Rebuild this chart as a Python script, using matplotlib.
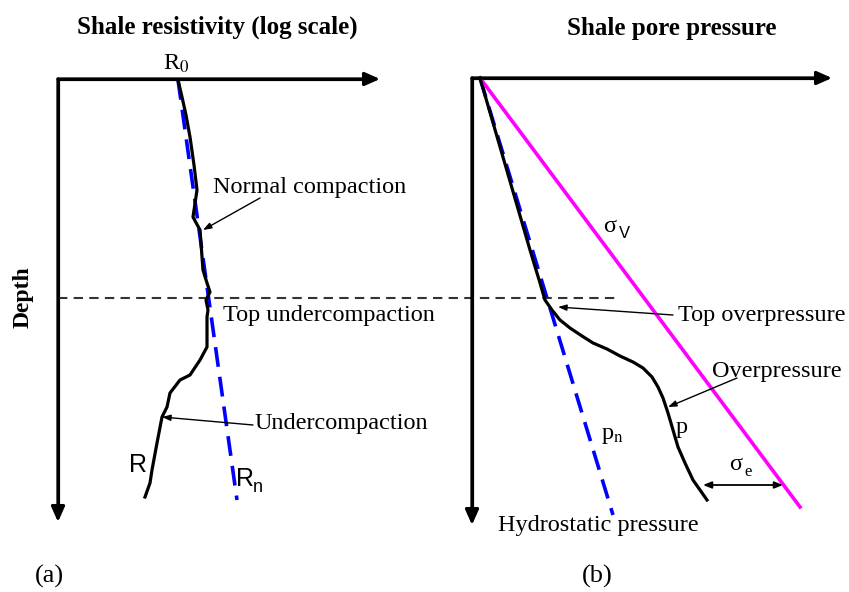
import matplotlib.pyplot as plt

plt.rcParams['font.family'] = ['Liberation Serif', 'DejaVu Serif']
plt.rcParams['mathtext.fontset'] = 'stix'

# schematic, in pixel units (x to the right, depth downwards)
# panel (a): shale resistivity
res_x = [178, 182, 186, 190, 194, 197, 193, 200, 203, 207, 210, 206, 208, 207, 207,
         200, 190, 180, 170, 167, 162, 157, 152, 150, 145]
res_depth = [80, 97, 115, 137, 165, 190, 217, 230, 270, 283, 292, 300, 310, 317, 347,
             360, 375, 380, 393, 407, 417, 443, 470, 483, 497]
rn_x = [178, 237]
rn_depth = [80, 500]

# panel (b): pore pressure
p_x = [480, 530, 540, 545, 552, 560, 570, 582, 593, 607, 620, 633, 643, 652, 658,
       663, 668, 673, 678, 685, 693, 707]
p_depth = [78, 250, 283, 300, 310, 320, 328, 336, 343, 349, 356, 362, 368, 377, 387,
           398, 413, 430, 447, 463, 480, 500]
pn_x = [480, 613]
pn_depth = [78, 515]
sigv_x = [480, 800]
sigv_depth = [78, 507]

top_depth = 298

fig = plt.figure(figsize=(8.49, 5.92), dpi=100)
ax = fig.add_axes([0, 0, 1, 1])
ax.set_xlim(0, 849)
ax.set_ylim(592, 0)
ax.axis('off')

axis_arrow = dict(arrowstyle='-|>,head_length=0.9,head_width=0.4', lw=2.3,
                  color='black', shrinkA=0, shrinkB=0)
label_arrow = dict(arrowstyle='-|>,head_length=0.5,head_width=0.18', lw=1.0,
                   color='black', shrinkA=0, shrinkB=0)

# axes of both panels
for x0, y0, xend, yend in [(58, 79, 380, 522), (472, 78, 832, 525)]:
    ax.plot([xend - 10, x0, x0], [y0, y0, yend - 10], color='black', lw=2.3,
            solid_joinstyle='miter')
    ax.annotate('', xy=(xend, y0), xytext=(x0, y0), arrowprops=axis_arrow)
    ax.annotate('', xy=(x0, yend), xytext=(x0, y0), arrowprops=axis_arrow)

# top of undercompaction / overpressure
ax.plot([58, 618], [top_depth, top_depth], color='#333333', lw=1.5, dashes=(4.5, 3))

# panel (a)
ax.plot(rn_x, rn_depth, color='#0000ff', lw=2.6, dashes=(5.5, 2.8))
ax.plot(res_x, res_depth, color='black', lw=2.3, solid_joinstyle='round')

# panel (b)
ax.plot(pn_x, pn_depth, color='#0000ff', lw=2.6, dashes=(5.5, 2.8))
ax.plot(sigv_x, sigv_depth, color='#ff00ff', lw=2.6)
ax.plot(p_x, p_depth, color='black', lw=2.3, solid_joinstyle='round')
ax.annotate('', xy=(703, 485), xytext=(783, 485),
            arrowprops=dict(arrowstyle='<|-|>,head_length=0.5,head_width=0.2',
                            lw=1.3, color='black', shrinkA=0, shrinkB=0))

fs = 17.5
ax.text(217, 27, 'Shale resistivity (log scale)', fontsize=18, fontweight='bold',
        ha='center', va='center')
ax.text(672, 28, 'Shale pore pressure', fontsize=18, fontweight='bold',
        ha='center', va='center')
ax.text(23, 297, 'Depth', fontsize=17, fontweight='bold', rotation=90,
        ha='center', va='center')
ax.text(49, 576, '(a)', fontsize=19, ha='center', va='center')
ax.text(597, 576, '(b)', fontsize=19, ha='center', va='center')

ax.text(176, 64, r'R$_0$', fontsize=fs, ha='center', va='center')
ax.text(213, 187, 'Normal compaction', fontsize=fs, va='center')
ax.annotate('', xy=(203, 230), xytext=(260, 198), arrowprops=label_arrow)
ax.text(223, 315, 'Top undercompaction', fontsize=fs, va='center')
ax.text(255, 423, 'Undercompaction', fontsize=fs, va='center')
ax.annotate('', xy=(162, 417), xytext=(253, 425), arrowprops=label_arrow)
ax.text(138, 465, 'R', fontsize=18, family='Liberation Sans', ha='center', va='center')
ax.text(245, 479, 'R', fontsize=18, family='Liberation Sans', ha='center', va='center')
ax.text(258, 488, 'n', fontsize=13, family='Liberation Sans', ha='center', va='center')

ax.text(610, 226, 'σ', fontsize=fs, ha='center', va='center')
ax.text(624, 234, 'V', fontsize=12, family='Liberation Sans', ha='center', va='center')
ax.text(678, 315, 'Top overpressure', fontsize=fs, va='center')
ax.annotate('', xy=(558, 307), xytext=(673, 315), arrowprops=label_arrow)
ax.text(712, 372, 'Overpressure', fontsize=fs, va='center')
ax.annotate('', xy=(668, 407), xytext=(737, 378), arrowprops=label_arrow)
ax.text(682, 428, 'p', fontsize=fs, ha='center', va='center')
ax.text(612, 436, r'p$_\mathrm{n}$', fontsize=fs, ha='center', va='center')
ax.text(736, 465, 'σ', fontsize=fs, ha='center', va='center')
ax.text(748, 472, 'e', fontsize=12, ha='center', va='center')
ax.text(498, 525, 'Hydrostatic pressure', fontsize=fs, va='center')

fig.savefig('out.png', dpi=100)
